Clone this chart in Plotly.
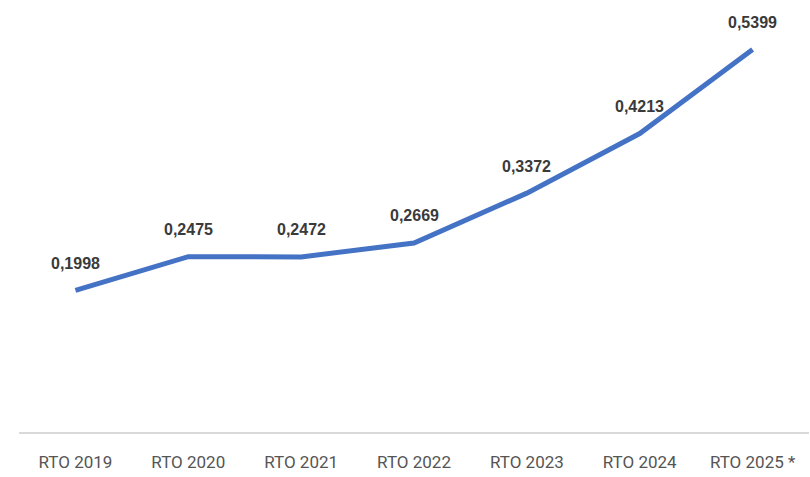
import plotly.graph_objects as go

categories = ["RTO 2019", "RTO 2020", "RTO 2021", "RTO 2022", "RTO 2023", "RTO 2024", "RTO 2025 *"]
values = [0.1998, 0.2475, 0.2472, 0.2669, 0.3372, 0.4213, 0.5399]
labels = ["0,1998", "0,2475", "0,2472", "0,2669", "0,3372", "0,4213", "0,5399"]

fig = go.Figure()
fig.add_trace(go.Scatter(
    x=categories, y=values, mode="lines",
    line=dict(color="#4472C4", width=5),
    hoverinfo="skip",
))
for c, v, t in zip(categories, values, labels):
    fig.add_annotation(x=c, y=v, text=t, showarrow=False, yshift=27,
                       font=dict(family="Liberation Sans, Arial", size=16, color="#3a3a3a", weight="bold"))

fig.update_layout(
    width=810, height=477,
    margin=dict(l=19, r=1, t=7, b=45),
    paper_bgcolor="white", plot_bgcolor="white",
    showlegend=False,
    xaxis=dict(showgrid=False, zeroline=False, showline=True, linecolor="#d9d9d9", linewidth=2,
               ticks="", ticklabelstandoff=14,
               tickfont=dict(family="Roboto", size=17, color="#555555", weight="normal"),
               range=[-0.5, 6.5]),
    yaxis=dict(range=[0, 0.6], visible=False, showgrid=False, zeroline=False),
)
fig.write_html("out.html")
